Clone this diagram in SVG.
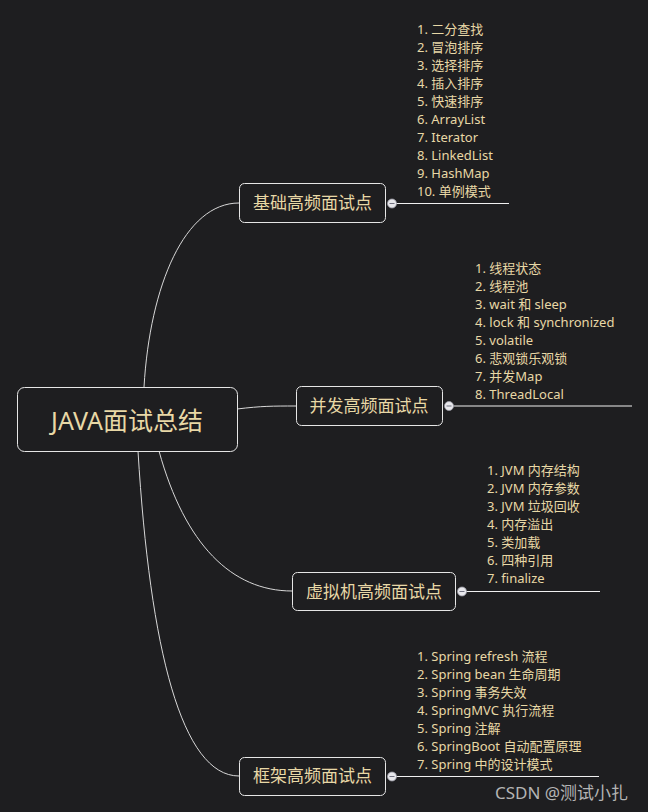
<svg xmlns="http://www.w3.org/2000/svg" width="648" height="812" viewBox="0 0 648 812">
<style>
.bg{fill:#1e1e20}
.node rect{fill:#1e1e20;stroke:#e6e6e6;stroke-width:1}
.ntext{font-family:"Noto Sans","Noto Sans CJK SC",sans-serif;fill:#e8d8a6;text-anchor:middle}
.item{font-family:"Noto Sans","Noto Sans CJK SC",sans-serif;font-size:13px;fill:#e8d8a6}
.conn path{fill:none;stroke:#d8d8d8;stroke-width:1}
.uline{stroke:#f0f0f0;stroke-width:1.2}
.knob circle{fill:#e8e8ec;stroke:#9a9aa4;stroke-width:0.8}
.knob line{stroke:#707080;stroke-width:1}
.wm{font-family:"Noto Sans","Noto Sans CJK SC",sans-serif;font-size:17px;fill:#b4b4b4}
</style>
<rect class="bg" x="0" y="0" width="648" height="812"/>
<g class="conn" id="connectors">
<path d="M144,387 C150,285 185,203 239,203"/>
<path d="M237,409 C262,406 272,406 296,406"/>
<path d="M159,451 C185,545 232,591 292,591"/>
<path d="M138,451 C150,650 182,776 239,776"/>
</g>
<g id="root" class="node">
<rect x="17.5" y="387.5" width="220" height="64" rx="7"/>
<text class="ntext" x="127" y="429.5" font-size="25">JAVA面试总结</text>
</g>
<g id="basic" class="node">
<rect x="239.5" y="183.5" width="146" height="39" rx="5"/>
<text class="ntext" x="312.5" y="209" font-size="17">基础高频面试点</text>
<line class="uline" x1="396" y1="203.5" x2="509" y2="203.5"/>
<g class="knob"><circle cx="392" cy="203.5" r="4.5"/><line x1="389.5" y1="203.5" x2="394.5" y2="203.5"/></g>
<text class="item" x="417" y="34">1. 二分查找</text>
<text class="item" x="417" y="52">2. 冒泡排序</text>
<text class="item" x="417" y="70">3. 选择排序</text>
<text class="item" x="417" y="88">4. 插入排序</text>
<text class="item" x="417" y="106">5. 快速排序</text>
<text class="item" x="417" y="124">6. ArrayList</text>
<text class="item" x="417" y="142">7. Iterator</text>
<text class="item" x="417" y="160">8. LinkedList</text>
<text class="item" x="417" y="178">9. HashMap</text>
<text class="item" x="417" y="196">10. 单例模式</text>
</g>
<g id="concurrency" class="node">
<rect x="296.5" y="386.5" width="146" height="39" rx="5"/>
<text class="ntext" x="369" y="412" font-size="17">并发高频面试点</text>
<line class="uline" x1="453" y1="406" x2="632" y2="406"/>
<g class="knob"><circle cx="449" cy="406" r="4.5"/><line x1="446.5" y1="406" x2="451.5" y2="406"/></g>
<text class="item" x="475" y="273">1. 线程状态</text>
<text class="item" x="475" y="291">2. 线程池</text>
<text class="item" x="475" y="309">3. wait 和 sleep</text>
<text class="item" x="475" y="327">4. lock 和 synchronized</text>
<text class="item" x="475" y="345">5. volatile</text>
<text class="item" x="475" y="363">6. 悲观锁乐观锁</text>
<text class="item" x="475" y="381">7. 并发Map</text>
<text class="item" x="475" y="399">8. ThreadLocal</text>
</g>
<g id="jvm" class="node">
<rect x="292.5" y="572.5" width="163" height="38" rx="5"/>
<text class="ntext" x="374" y="597.5" font-size="17">虚拟机高频面试点</text>
<line class="uline" x1="466" y1="591.5" x2="600" y2="591.5"/>
<g class="knob"><circle cx="462" cy="591.5" r="4.5"/><line x1="459.5" y1="591.5" x2="464.5" y2="591.5"/></g>
<text class="item" x="487" y="475">1. JVM 内存结构</text>
<text class="item" x="487" y="493">2. JVM 内存参数</text>
<text class="item" x="487" y="511">3. JVM 垃圾回收</text>
<text class="item" x="487" y="529">4. 内存溢出</text>
<text class="item" x="487" y="547">5. 类加载</text>
<text class="item" x="487" y="565">6. 四种引用</text>
<text class="item" x="487" y="583">7. finalize</text>
</g>
<g id="framework" class="node">
<rect x="239.5" y="757.5" width="146" height="38" rx="5"/>
<text class="ntext" x="312.5" y="782" font-size="17">框架高频面试点</text>
<line class="uline" x1="396" y1="776.5" x2="599" y2="776.5"/>
<g class="knob"><circle cx="392" cy="776.5" r="4.5"/><line x1="389.5" y1="776.5" x2="394.5" y2="776.5"/></g>
<text class="item" x="417" y="661">1. Spring refresh 流程</text>
<text class="item" x="417" y="679">2. Spring bean 生命周期</text>
<text class="item" x="417" y="697">3. Spring 事务失效</text>
<text class="item" x="417" y="715">4. SpringMVC 执行流程</text>
<text class="item" x="417" y="733">5. Spring 注解</text>
<text class="item" x="417" y="751">6. SpringBoot 自动配置原理</text>
<text class="item" x="417" y="769">7. Spring 中的设计模式</text>
</g>
<text class="wm" x="495" y="799">CSDN @测试小扎</text>
</svg>
